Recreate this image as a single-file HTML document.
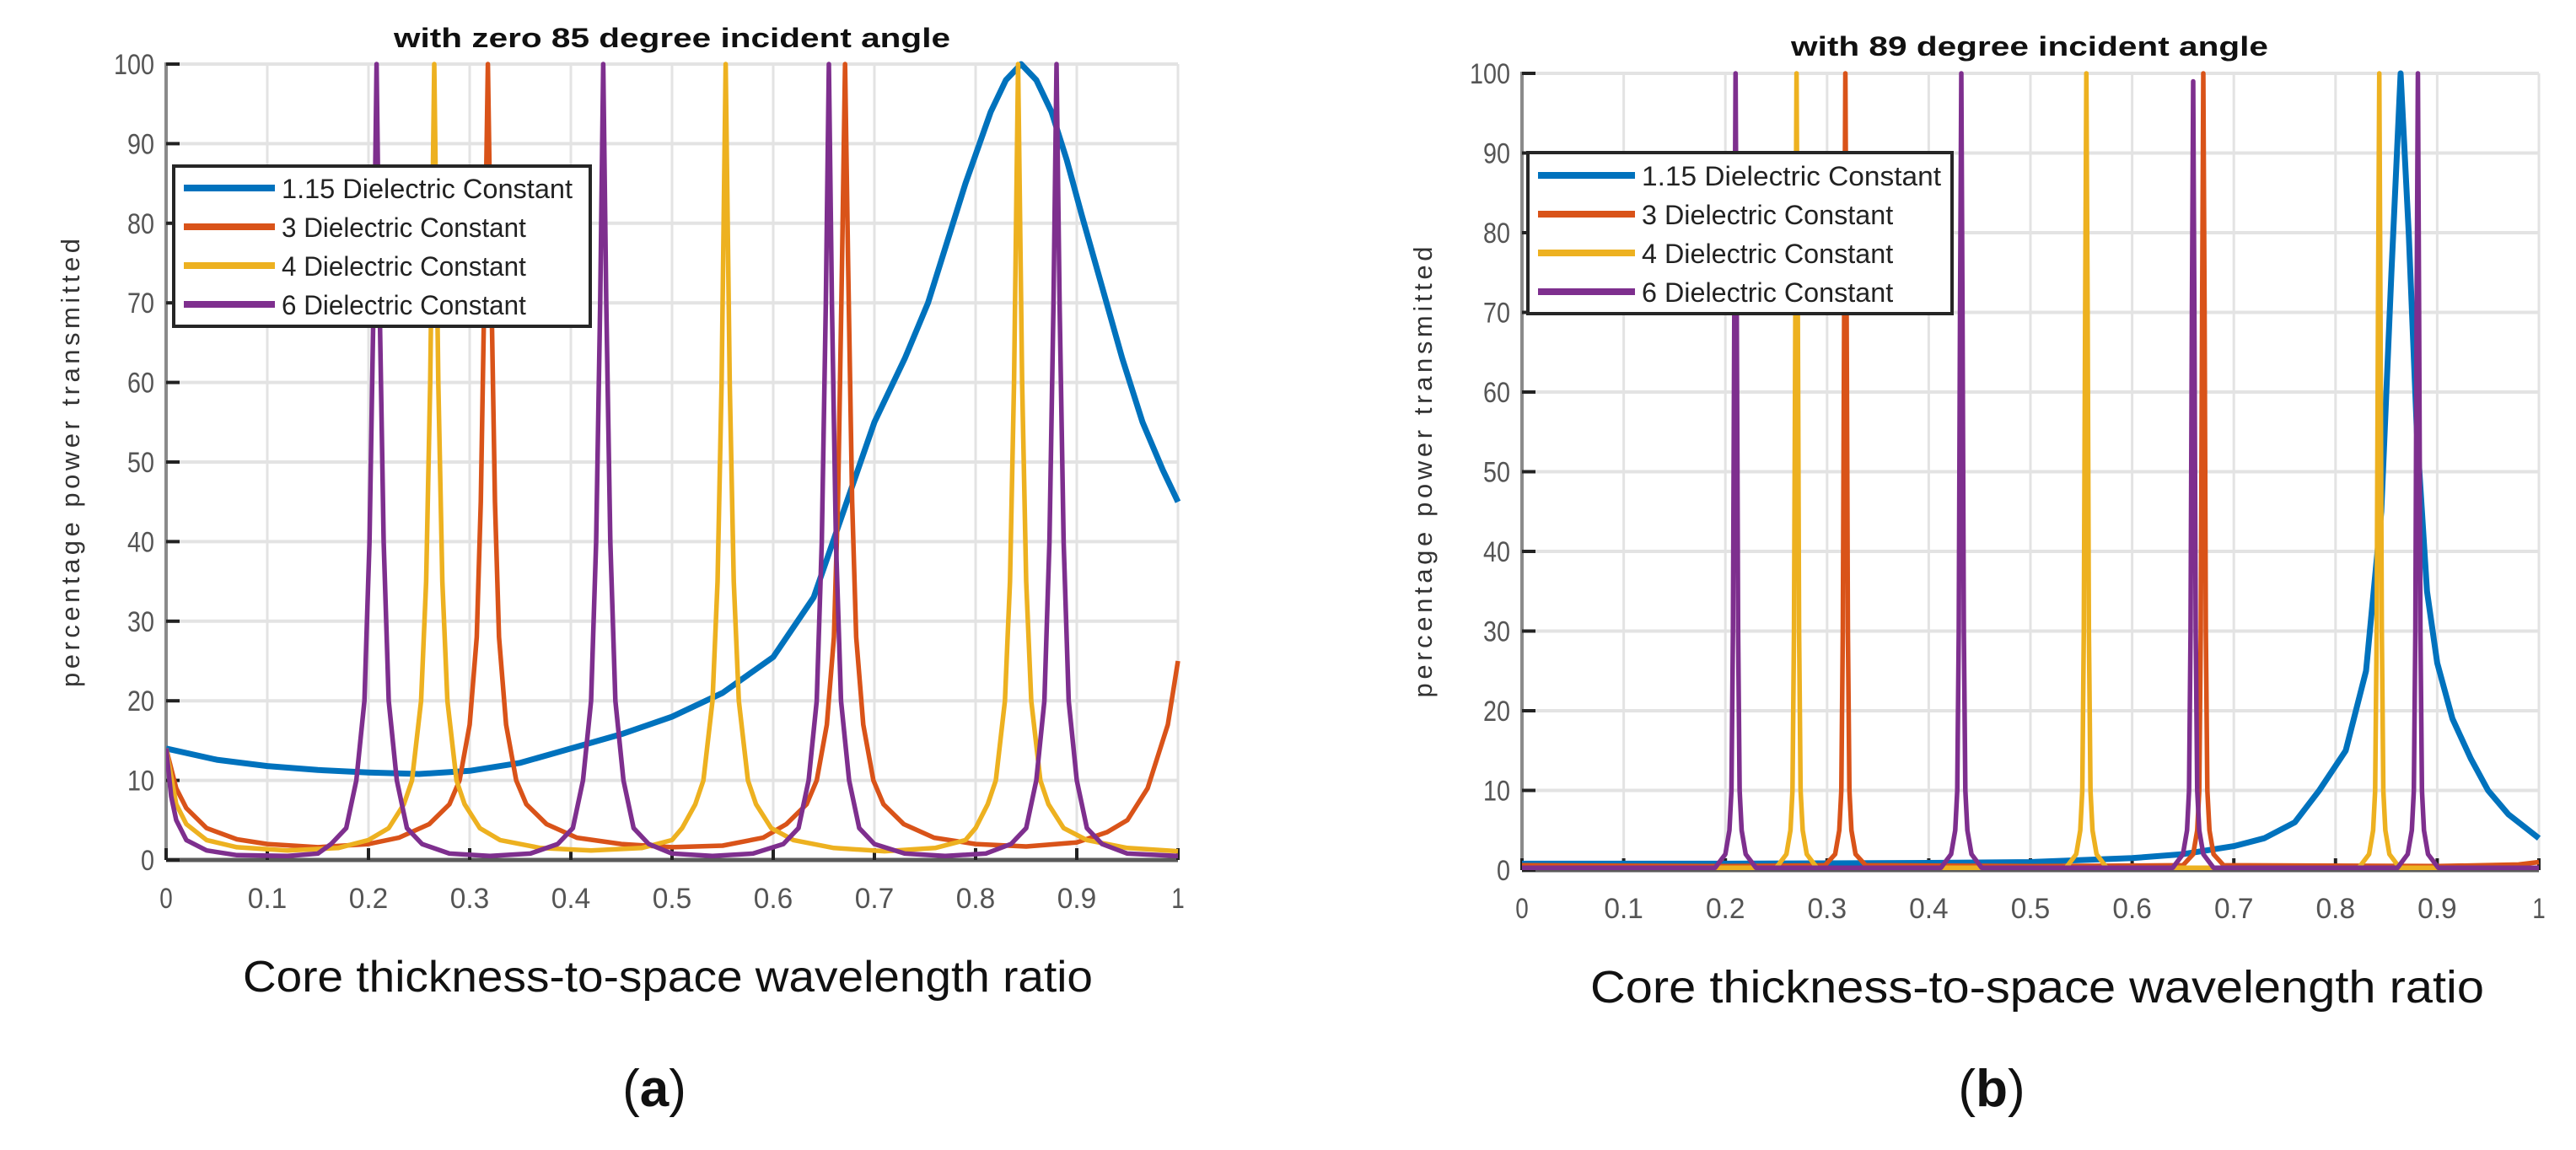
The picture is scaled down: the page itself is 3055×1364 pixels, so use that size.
<!DOCTYPE html>
<html><head><meta charset="utf-8"><style>
html,body{margin:0;padding:0;background:#fff;}
svg{display:block;}
text{font-family:"Liberation Sans",sans-serif;}
</style></head><body>
<svg id="fig" width="3055" height="1364" viewBox="0 0 3055 1364" xmlns="http://www.w3.org/2000/svg">
<g id="panelA"></g>
<g id="panelB"></g>
</svg>
<script>
const xTicks = [0,0.1,0.2,0.3,0.4,0.5,0.6,0.7,0.8,0.9,1];
const xTickLabels = ["0","0.1","0.2","0.3","0.4","0.5","0.6","0.7","0.8","0.9","1"];
const yTicks = [0,10,20,30,40,50,60,70,80,90,100];
const yTickLabels = ["0","10","20","30","40","50","60","70","80","90","100"];
const seriesNames = ["1.15 Dielectric Constant","3 Dielectric Constant","4 Dielectric Constant","6 Dielectric Constant"];

// Panel (a): 85 degree incidence
const aBlue = [[0,14],[0.05,12.6],[0.1,11.8],[0.15,11.3],[0.2,11],[0.25,10.8],[0.3,11.2],[0.35,12.2],[0.4,14],[0.45,15.8],[0.5,18],[0.55,21],[0.6,25.5],[0.64,33],[0.67,44],[0.7,55],[0.73,63],[0.753,70],[0.79,85],[0.815,94],[0.83,98],[0.845,100],[0.86,98],[0.875,94],[0.89,88],[0.905,81],[0.925,72],[0.945,63],[0.965,55],[0.985,49],[1,45]];
const aOrange = [[0,14],[0.01,9],[0.02,6.5],[0.04,4],[0.07,2.6],[0.1,2],[0.15,1.6],[0.2,2],[0.23,2.8],[0.26,4.5],[0.28,7],[0.29,10],[0.3,17],[0.307,28],[0.311,45],[0.315,75],[0.318,100],[0.321,75],[0.325,45],[0.329,28],[0.336,17],[0.346,10],[0.356,7],[0.376,4.5],[0.406,2.8],[0.45,2],[0.5,1.6],[0.55,1.8],[0.59,2.8],[0.613,4.5],[0.633,7],[0.643,10],[0.653,17],[0.66,28],[0.664,45],[0.668,75],[0.671,100],[0.674,75],[0.678,45],[0.682,28],[0.689,17],[0.699,10],[0.709,7],[0.729,4.5],[0.759,2.8],[0.8,2],[0.85,1.7],[0.9,2.2],[0.93,3.5],[0.95,5],[0.97,9],[0.99,17],[1,25]];
const aYellow = [[0,14],[0.01,7],[0.02,4.5],[0.04,2.5],[0.07,1.6],[0.12,1.2],[0.17,1.5],[0.2,2.5],[0.22,4],[0.235,7],[0.243,10],[0.252,20],[0.257,35],[0.261,60],[0.265,100],[0.269,60],[0.273,35],[0.278,20],[0.287,10],[0.295,7],[0.31,4],[0.33,2.5],[0.37,1.5],[0.42,1.2],[0.47,1.5],[0.5,2.5],[0.51,4],[0.523,7],[0.531,10],[0.54,20],[0.545,35],[0.549,60],[0.553,100],[0.557,60],[0.561,35],[0.566,20],[0.575,10],[0.583,7],[0.598,4],[0.62,2.5],[0.66,1.5],[0.71,1.1],[0.76,1.5],[0.79,2.5],[0.8,4],[0.812,7],[0.82,10],[0.829,20],[0.834,35],[0.838,60],[0.842,100],[0.846,60],[0.85,35],[0.855,20],[0.864,10],[0.872,7],[0.887,4],[0.91,2.5],[0.95,1.5],[1,1.1]];
const aPurple = [[0,14],[0.005,8],[0.01,5],[0.02,2.5],[0.04,1.2],[0.07,0.6],[0.12,0.5],[0.15,0.8],[0.163,2],[0.178,4],[0.188,10],[0.196,20],[0.201,40],[0.205,70],[0.208,100],[0.211,70],[0.215,40],[0.22,20],[0.228,10],[0.238,4],[0.253,2],[0.28,0.8],[0.32,0.5],[0.36,0.8],[0.387,2],[0.402,4],[0.412,10],[0.42,20],[0.425,40],[0.429,70],[0.432,100],[0.435,70],[0.439,40],[0.444,20],[0.452,10],[0.462,4],[0.477,2],[0.5,0.8],[0.54,0.5],[0.58,0.8],[0.61,2],[0.625,4],[0.635,10],[0.643,20],[0.648,40],[0.652,70],[0.655,100],[0.658,70],[0.662,40],[0.667,20],[0.675,10],[0.685,4],[0.7,2],[0.73,0.8],[0.77,0.5],[0.81,0.8],[0.835,2],[0.85,4],[0.86,10],[0.868,20],[0.873,40],[0.877,70],[0.88,100],[0.883,70],[0.887,40],[0.892,20],[0.9,10],[0.91,4],[0.925,2],[0.95,0.8],[1,0.5]];

// Panel (b): 89 degree incidence
const bBlue = [[0,0.8],[0.2,0.8],[0.4,0.9],[0.5,1],[0.6,1.5],[0.65,2],[0.7,3],[0.73,4],[0.76,6],[0.784,10],[0.81,15],[0.83,25],[0.845,45],[0.855,75],[0.864,100],[0.872,80],[0.88,55],[0.89,35],[0.9,26],[0.915,19],[0.933,14],[0.95,10],[0.97,7],[0.985,5.5],[1,4]];
const bOrange = [[0,0.6],[0.2,0.5],[0.298,0.6],[0.308,2],[0.312,5],[0.314,10],[0.3155,30],[0.3168,70],[0.318,100],[0.3192,70],[0.3205,30],[0.322,10],[0.324,5],[0.328,2],[0.338,0.6],[0.5,0.5],[0.65,0.6],[0.66,2],[0.664,5],[0.666,10],[0.6675,30],[0.6688,70],[0.67,100],[0.6712,70],[0.6725,30],[0.674,10],[0.676,5],[0.68,2],[0.69,0.6],[0.9,0.5],[0.98,0.7],[1,1]];
const bYellow = [[0,0.3],[0.25,0.3],[0.26,2],[0.264,5],[0.266,10],[0.2675,30],[0.2688,70],[0.27,100],[0.2712,70],[0.2725,30],[0.274,10],[0.276,5],[0.28,2],[0.29,0.3],[0.535,0.3],[0.545,2],[0.549,5],[0.551,10],[0.5525,30],[0.5538,70],[0.555,100],[0.5562,70],[0.5575,30],[0.559,10],[0.561,5],[0.565,2],[0.575,0.3],[0.823,0.3],[0.833,2],[0.837,5],[0.839,10],[0.8405,30],[0.8418,70],[0.843,100],[0.8442,70],[0.8455,30],[0.847,10],[0.849,5],[0.853,2],[0.863,0.3],[1,0.3]];
const bPurple = [[0,0.3],[0.19,0.3],[0.2,2],[0.204,5],[0.206,10],[0.2075,30],[0.2088,70],[0.21,100],[0.2112,70],[0.2125,30],[0.214,10],[0.216,5],[0.22,2],[0.23,0.3],[0.412,0.3],[0.422,2],[0.426,5],[0.428,10],[0.4295,30],[0.4308,70],[0.432,100],[0.4332,70],[0.4345,30],[0.436,10],[0.438,5],[0.442,2],[0.452,0.3],[0.64,0.3],[0.65,2],[0.654,5],[0.656,10],[0.6575,30],[0.6588,70],[0.66,99],[0.6612,70],[0.6625,30],[0.664,10],[0.666,5],[0.67,2],[0.68,0.3],[0.861,0.3],[0.871,2],[0.875,5],[0.877,10],[0.8785,30],[0.8798,70],[0.881,100],[0.8822,70],[0.8835,30],[0.885,10],[0.887,5],[0.891,2],[0.901,0.3],[1,0.3]];

const colors = ["#0072BD","#D95319","#EDB120","#7E2F8E"];
const NS = "http://www.w3.org/2000/svg";
function mk(parent, tag, attrs, txt){
  const e = document.createElementNS(NS, tag);
  for (const k in attrs) e.setAttribute(k, attrs[k]);
  if (txt !== undefined) e.textContent = txt;
  parent.appendChild(e);
  return e;
}
function drawPanel(g, cfg, series){
  const X0=cfg.x0, X1=cfg.x1, Y0=cfg.y0, Y1=cfg.y1;
  const sx = v => X0 + (X1-X0)*v;
  const sy = v => Y0 - (Y0-Y1)*v/100;
  const grid = mk(g,'g',{});
  
  
  xTicks.forEach(t=>{ const l=mk(grid,'line',{x1:sx(t),x2:sx(t),y1:Y1,y2:Y0,stroke:'#e3e3e3','stroke-width':3});
      });
  yTicks.forEach(t=>{ const l=mk(grid,'line',{x1:X0,x2:X1,y1:sy(t),y2:sy(t),stroke:'#e3e3e3','stroke-width':4});
      });
  const ya = mk(g,'line',{x1:X0,x2:X0,y1:Y1-2,y2:Y0,stroke:'#8a8a8a','stroke-width':4});
   
  const xa = mk(g,'line',{x1:X0,x2:X1,y1:Y0,y2:Y0,stroke:'#5a5a5a','stroke-width':5});
   
  yTicks.forEach((t,i)=>{
    const tk=mk(g,'line',{x1:X0,x2:X0+16,y1:sy(t),y2:sy(t),stroke:'#222','stroke-width':4});
     
    const lab=yTickLabels[i];
    const tl=mk(g,'text',{x:X0-14,y:sy(t)+12,'text-anchor':'end','font-size':34,fill:'#555',textLength:lab.length*16,lengthAdjust:'spacingAndGlyphs'},lab);
     
  });
  xTicks.forEach((t,i)=>{
    const tk=mk(g,'line',{x1:sx(t),x2:sx(t),y1:Y0,y2:Y0-14,stroke:'#222','stroke-width':4});
     
    const lab=xTickLabels[i];
    const tl=mk(g,'text',{x:sx(t),y:Y0+57,'text-anchor':'middle','font-size':34,fill:'#555',textLength:lab.length*15.5,lengthAdjust:'spacingAndGlyphs'},lab);
     
  });
  const clip = mk(g,'clipPath',{id:cfg.id+'clip'});
  mk(clip,'rect',{x:X0,y:Y1-6,width:X1-X0+4,height:Y0-Y1+8});
  const sg = mk(g,'g',{'clip-path':'url(#'+cfg.id+'clip)'});
   
  [0,1,2,3].forEach(si=>{
    const pts = series[si].map(p=>sx(p[0]).toFixed(1)+','+sy(p[1]).toFixed(1)).join(' ');
    const pl = mk(sg,'polyline',{points:pts,fill:'none',stroke:colors[si],'stroke-width':si===0?7:5.5,'stroke-linejoin':'round'});
    
    
  });
  const lg = mk(g,'g',{});
   
  const L=cfg.leg;
  mk(lg,'rect',{x:L.x,y:L.y,width:L.w,height:L.h,fill:'#fff',stroke:'#262626','stroke-width':4});
  seriesNames.forEach((nm,i)=>{
    const yy=L.y+L.first+i*L.step;
    const e=mk(lg,'g',{});
     
    mk(e,'line',{x1:L.x+12,x2:L.x+L.lineW,y1:yy,y2:yy,stroke:colors[i],'stroke-width':8});
    mk(e,'text',{x:L.x+L.lineW+8,y:yy+12,'font-size':L.fs,fill:'#222',textLength:(i===0?L.tl:L.tl*0.84),lengthAdjust:'spacingAndGlyphs'},nm);
  });
  const tt=mk(g,'text',{x:cfg.titleX,y:cfg.titleY,'font-size':32,'font-weight':'bold',fill:'#111',textLength:cfg.titleW,lengthAdjust:'spacingAndGlyphs'},cfg.title);
   
  const yl=mk(g,'text',{x:0,y:0,'font-size':31,fill:'#333','text-anchor':'middle',textLength:cfg.ylW,transform:'translate('+cfg.ylX+','+cfg.ylY+') rotate(-90)'},'percentage power transmitted');
   
  const xl=mk(g,'text',{x:cfg.xlX,y:cfg.xlY,'font-size':cfg.xlFs,fill:'#111',textLength:cfg.xlW,lengthAdjust:'spacingAndGlyphs'},'Core thickness-to-space wavelength ratio');
   
  const cap=mk(g,'text',{x:cfg.capX,y:1312,'font-size':62,'text-anchor':'middle',fill:'#111','font-family':'Liberation Serif, serif'});
   
  mk(cap,'tspan',{},'(');
  mk(cap,'tspan',{'font-weight':'bold'},cfg.letter);
  mk(cap,'tspan',{},')');
}
drawPanel(document.getElementById('panelA'),
 {id:'a',x0:197,x1:1397,y0:1020,y1:76,
  leg:{x:206,y:197,w:494,h:190,first:26,step:46,lineW:120,fs:32,tl:345},
  title:'with zero 85 degree incident angle',titleX:467,titleY:56,titleW:660,
  ylX:94,ylY:549,ylW:532,xlX:288,xlY:1176,xlW:1008,xlFs:52,capX:776,letter:'a'},
  [aBlue,aOrange,aYellow,aPurple]);
drawPanel(document.getElementById('panelB'),
 {id:'b',x0:1805,x1:3011,y0:1032,y1:87,
  leg:{x:1812,y:181,w:503,h:191,first:27,step:46,lineW:127,fs:32,tl:355},
  title:'with 89 degree incident angle',titleX:2124,titleY:66,titleW:566,
  ylX:1698,ylY:560,ylW:535,xlX:1886,xlY:1189,xlW:1060,xlFs:54,capX:2362,letter:'b'},
  [bBlue,bOrange,bYellow,bPurple]);
</script>
</body></html>
